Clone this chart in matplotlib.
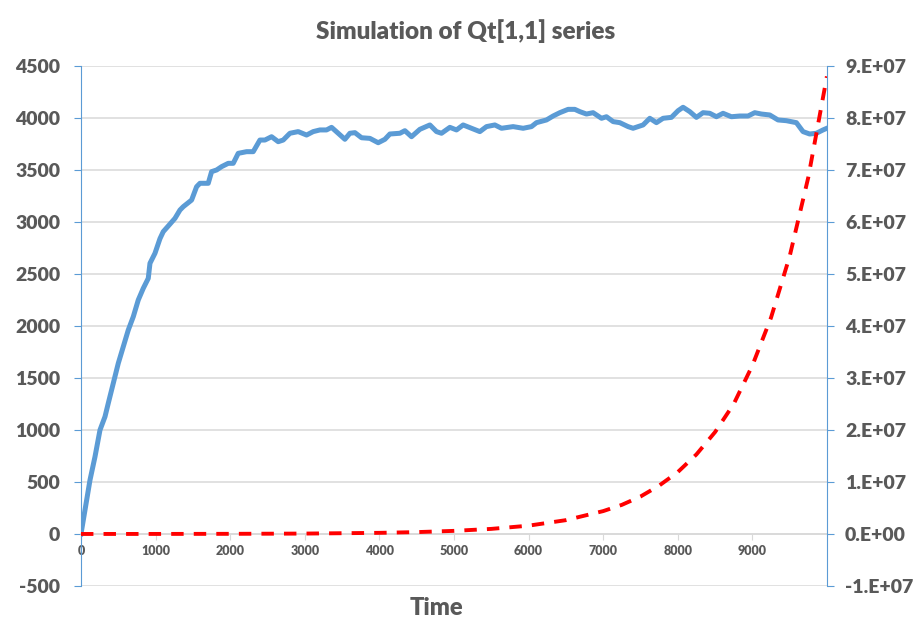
import numpy as np
import matplotlib
matplotlib.use('Agg')
import matplotlib.pyplot as plt
from matplotlib.ticker import FuncFormatter

# 青線: Qt[1,1] のシミュレーション (左軸)
time_q = [0, 54, 121, 188, 255, 322, 366, 433, 500, 567, 634, 701, 768, 835, 902, 925,
          992, 1059, 1103, 1193, 1260, 1327, 1371, 1483, 1550, 1595, 1706, 1751, 1818,
          1885, 1974, 2041, 2108, 2220, 2309, 2399, 2466, 2555, 2644, 2711, 2801, 2912,
          3024, 3113, 3203, 3292, 3359, 3448, 3538, 3605, 3672, 3761, 3873, 3984, 4074,
          4141, 4275, 4342, 4431, 4543, 4677, 4766, 4833, 4945, 5034, 5123, 5235, 5347,
          5436, 5548, 5637, 5793, 5927, 6039, 6106, 6240, 6329, 6419, 6530, 6620, 6687,
          6776, 6865, 6978, 7044, 7134, 7223, 7334, 7401, 7535, 7625, 7714, 7803, 7915,
          8004, 8071, 8161, 8250, 8339, 8429, 8518, 8607, 8719, 8831, 8942, 9032, 9121,
          9233, 9344, 9456, 9590, 9679, 9768, 9858, 9947, 9999]
qt11 = [0, 231, 519, 743, 1000, 1128, 1257, 1449, 1641, 1801, 1961, 2089, 2250, 2362, 2458,
        2603, 2699, 2840, 2907, 2980, 3035, 3115, 3147, 3211, 3339, 3372, 3372, 3484, 3500,
        3532, 3564, 3564, 3660, 3676, 3676, 3788, 3788, 3820, 3772, 3788, 3853, 3869, 3836,
        3869, 3885, 3885, 3910, 3853, 3795, 3853, 3859, 3810, 3804, 3762, 3795, 3846, 3853,
        3878, 3820, 3891, 3933, 3869, 3853, 3910, 3885, 3933, 3901, 3869, 3917, 3933, 3901,
        3917, 3901, 3917, 3955, 3981, 4019, 4051, 4083, 4083, 4061, 4038, 4051, 3997, 4012,
        3965, 3955, 3917, 3901, 3933, 3997, 3955, 3997, 4006, 4070, 4103, 4061, 4006, 4051,
        4045, 4012, 4045, 4012, 4019, 4019, 4051, 4038, 4029, 3981, 3974, 3955, 3869, 3846,
        3853, 3885, 3901]

# 赤破線 (右軸)
time_r = [0, 1000, 2000, 3000, 4000, 4500, 5000, 5500, 6000, 6500, 7000, 7250, 7500, 7750,
          8000, 8250, 8500, 8750, 9000, 9250, 9500, 9750, 9999]
red_vals = [4.0e3, 1.1e4, 3.0e4, 8.0e4, 2.2e5, 3.6e5, 6.0e5, 9.8e5, 1.6e6, 2.66e6, 4.4e6,
            5.6e6, 7.2e6, 9.3e6, 1.19e7, 1.53e7, 1.96e7, 2.5e7, 3.24e7, 4.16e7, 5.34e7,
            6.86e7, 8.8e7]

left_ticks = list(range(-500, 5000, 500))
right_ticks = [i * 1e7 for i in range(-1, 10)]
x_ticks = list(range(0, 10000, 1000))

TXT = '#595959'
GRID = '#D9D9D9'
AXBLUE = '#5B9BD5'
plt.rcParams['font.family'] = ['Lato', 'DejaVu Sans']
plt.rcParams['font.weight'] = 'heavy'
plt.rcParams['axes.unicode_minus'] = False


def sci_fmt(v, pos):
    if abs(v) < 1:
        return '0.E+00'
    return f'{int(round(v / 1e7))}.E+07'


fig = plt.figure(figsize=(9.16, 6.32), dpi=100)
ax = fig.add_axes([0.0884, 0.0728, 0.8144, 0.8228])
ax2 = ax.twinx()

ax.plot(time_q, qt11, color=AXBLUE, lw=3.6, solid_joinstyle='round', zorder=3)
ax2.plot(time_r, red_vals, color='#FF0000', lw=2.8, dashes=(3.2, 2.6), zorder=3)

ax.set_xlim(0, 10000)
ax.set_ylim(-500, 4500)
ax2.set_ylim(-1e7, 9e7)
ax.set_xticks(x_ticks)
ax.set_yticks(left_ticks)
ax2.set_yticks(right_ticks)
ax2.yaxis.set_major_formatter(FuncFormatter(sci_fmt))

ax.grid(axis='y', color=GRID, lw=1.1, zorder=0)
ax.set_axisbelow(True)

# x軸は y=0 の位置
ax.spines['bottom'].set_position(('data', 0))
ax.spines['bottom'].set_color(GRID)
ax.spines['bottom'].set_linewidth(1.1)
ax.spines['top'].set_visible(False)
ax.spines['right'].set_visible(False)
ax.spines['left'].set_color(AXBLUE)
for s in ['top', 'bottom', 'left']:
    ax2.spines[s].set_visible(False)
ax2.spines['right'].set_color(AXBLUE)

ax.tick_params(axis='x', direction='out', length=4, color=GRID, labelcolor=TXT,
               labelsize=9, pad=4)
ax.tick_params(axis='y', direction='out', length=5, color=AXBLUE, labelcolor=TXT,
               labelsize=14, pad=10)
ax2.tick_params(axis='y', direction='out', length=5, color=AXBLUE, labelcolor=TXT,
                labelsize=14, pad=8)
for lab in ax.get_xticklabels() + ax.get_yticklabels() + ax2.get_yticklabels():
    lab.set_fontweight('heavy')

fig.text(466 / 916, 1 - 31 / 632, 'Simulation of Qt[1,1] series', ha='center', va='center',
         fontsize=17.5, fontweight='heavy', color=TXT)
fig.text(436 / 916, 1 - 608 / 632, 'Time', ha='center', va='center',
         fontsize=17, fontweight='heavy', color=TXT)

fig.savefig('out.png', dpi=100)
